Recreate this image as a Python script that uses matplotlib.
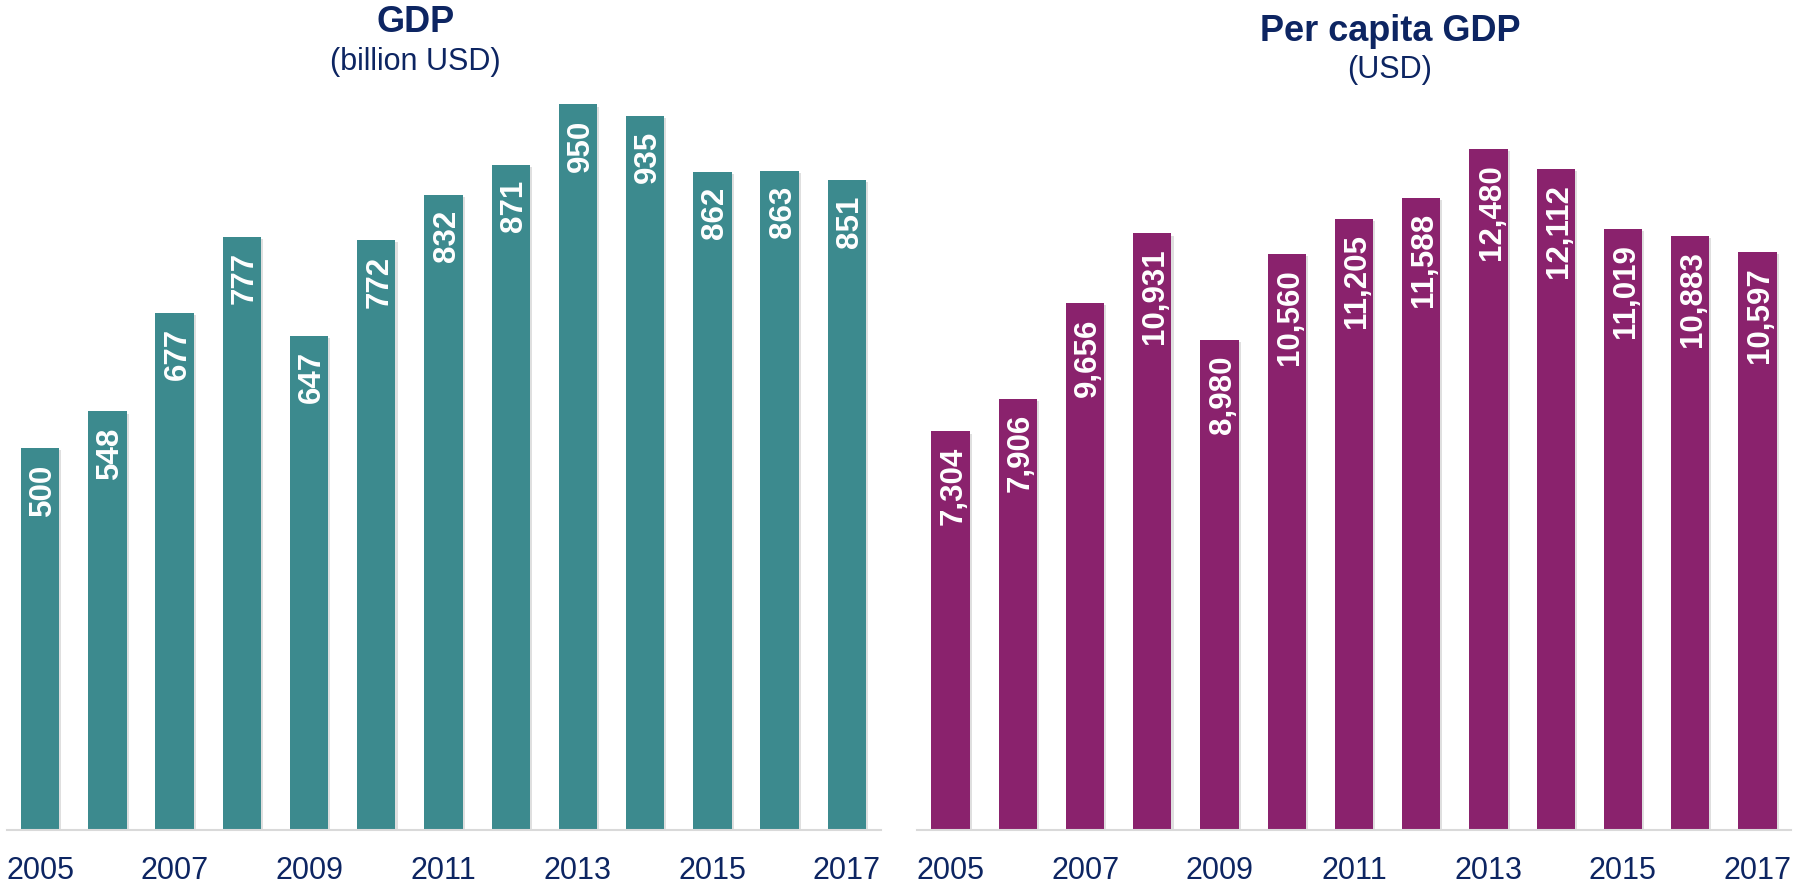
import matplotlib
matplotlib.use("Agg")
import matplotlib.pyplot as plt
import matplotlib.patheffects as pe

plt.rcParams['font.family'] = ['Liberation Sans', 'DejaVu Sans']

years = [2005, 2006, 2007, 2008, 2009, 2010, 2011, 2012, 2013, 2014, 2015, 2016, 2017]
gdp = [500, 548, 677, 777, 647, 772, 832, 871, 950, 935, 862, 863, 851]
gdp_pc = [7304, 7906, 9656, 10931, 8980, 10560, 11205, 11588, 12480, 12112, 11019, 10883, 10597]
tick_years = [2005, 2007, 2009, 2011, 2013, 2015, 2017]

W, H = 1795, 885
NAVY = '#0D2562'
TEAL = '#3C8A8E'
PURPLE = '#8A226D'

fig = plt.figure(figsize=(W / 100, H / 100), dpi=100)

def make_panel(left_px, values, color, ymax):
    ax = fig.add_axes([left_px / W, 55 / H, 874 / W, 726 / H])
    x = list(range(len(values)))
    bars = ax.bar(x, values, width=0.57, color=color, zorder=2)
    for b in bars:
        b.set_path_effects([pe.SimplePatchShadow(offset=(1.5, -1.5), shadow_rgbFace='#808080', alpha=0.25),
                            pe.Normal()])
    ax.set_xlim(-0.5, len(values) - 0.5)
    ax.set_ylim(0, ymax)
    for xi, v in zip(x, values):
        ax.annotate(f"{v:,}", xy=(xi, v), xytext=(2.2, -11), textcoords='offset points',
                    rotation=90, rotation_mode='anchor', ha='right', va='center',
                    color='white', fontsize=22.5, fontweight='bold', zorder=3)
    for s in ['top', 'right', 'left']:
        ax.spines[s].set_visible(False)
    ax.spines['bottom'].set_color('#D9D9D9')
    ax.spines['bottom'].set_linewidth(1.5)
    ax.set_yticks([])
    ax.set_xticks([years.index(y) for y in tick_years])
    ax.set_xticklabels([str(y) for y in tick_years], fontsize=22, color=NAVY)
    ax.tick_params(axis='x', length=0, pad=19)
    ax.patch.set_alpha(0)
    return ax

make_panel(6.5, gdp, TEAL, 950.6)
make_panel(917, gdp_pc, PURPLE, 13304)

def ftext(xp, yp, s, **kw):
    fig.text(xp / W, 1 - yp / H, s, ha='center', va='baseline', color=NAVY, **kw)

ftext(416, 31.7, 'GDP', fontsize=26, fontweight='bold')
ftext(415, 70, '(billion USD)', fontsize=22)
ftext(1390, 41, 'Per capita GDP', fontsize=26, fontweight='bold')
ftext(1390, 77.7, '(USD)', fontsize=22)

fig.savefig('out.png', dpi=100)
